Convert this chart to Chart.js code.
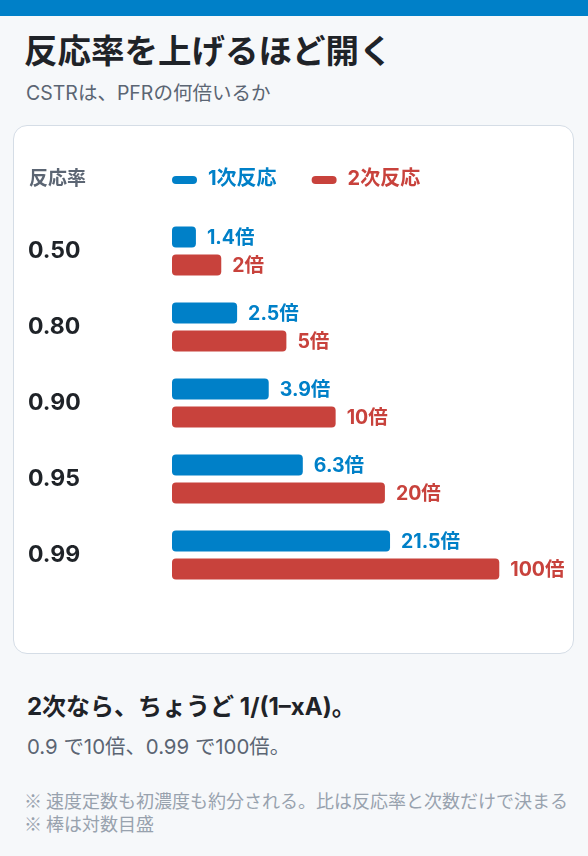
<!DOCTYPE html>
<html lang="ja">
<head>
<meta charset="utf-8">
<script src="https://cdn.jsdelivr.net/npm/chart.js@4"></script>
<style>
  body { margin: 0; background: #f6f8fa; font-family: Inter, "Noto Sans CJK JP", sans-serif; width: 588px; height: 856px; position: relative; overflow: hidden; }
  .topbar { position: absolute; left: 0; top: 0; width: 588px; height: 16px; background: #0080c8; }
  h1 { position: absolute; left: 24px; top: 31px; margin: 0; font-size: 33.5px; line-height: 40px; font-weight: 700; color: #1f2328; white-space: nowrap; }
  .sub { position: absolute; left: 26px; top: 80px; margin: 0; font-size: 19.5px; line-height: 26px; color: #5b6573; white-space: nowrap; }
  .card { position: absolute; left: 13px; top: 125px; width: 559px; height: 527px; background: #fff; border: 1.5px solid #d5dde6; border-radius: 14px; }
  .chartbox { position: absolute; left: 14px; top: 14px; width: 545px; height: 500px; }
  .point { position: absolute; left: 27px; top: 691px; margin: 0; font-size: 24px; line-height: 32px; font-weight: 700; color: #1f2328; white-space: nowrap; }
  .detail { position: absolute; left: 27px; top: 733px; margin: 0; font-size: 20.4px; line-height: 28px; color: #5b6573; white-space: nowrap; }
  .note { position: absolute; left: 24px; top: 789px; margin: 0; font-family: "Noto Sans CJK JP", sans-serif; font-size: 18px; line-height: 23px; color: #98a2ae; white-space: nowrap; }
</style>
</head>
<body>
<div class="topbar"></div>
<h1>反応率を上げるほど開く</h1>
<p class="sub">CSTRは、PFRの何倍いるか</p>
<div class="card">
  <div class="chartbox"><canvas id="ratioChart"></canvas></div>
</div>
<p class="point">2次なら、ちょうど 1/(1–xA)。</p>
<p class="detail">0.9 で10倍、0.99 で100倍。</p>
<p class="note">※ 速度定数も初濃度も約分される。比は反応率と次数だけで決まる<br>※ 棒は対数目盛</p>

<script>
const conversions = ['0.50', '0.80', '0.90', '0.95', '0.99'];
const firstOrder = [1.4, 2.5, 3.9, 6.3, 21.5];
const secondOrder = [2, 5, 10, 20, 100];
const seriesNames = ['1次反応', '2次反応'];
const axisHeader = '反応率';

const BLUE = '#0080c8';
const RED = '#c8423c';
const FONT = 'Inter, "Noto Sans CJK JP", sans-serif';

// header row: "反応率" + legend pills
const headerRow = {
   id: 'headerRow',
   afterDraw(chart) {
      const c = chart.ctx;
      const y = 39;
      c.save();
      c.textBaseline = 'middle';
      c.textAlign = 'left';
      c.font = '700 19px ' + FONT;
      c.fillStyle = '#5b6573';
      c.fillText(axisHeader, 1, y);
      c.font = '700 20px ' + FONT;
      let x = chart.chartArea.left;
      chart.data.datasets.forEach(ds => {
         c.fillStyle = ds.backgroundColor;
         c.beginPath();
         c.roundRect(x, y - 3, 25, 8, 4);
         c.fill();
         c.fillText(ds.label, x + 36, y);
         x += 36 + c.measureText(ds.label).width + 35;
      });
      c.restore();
   }
};

// value labels after bar ends
const valueLabels = {
   id: 'valueLabels',
   afterDatasetsDraw(chart) {
      const c = chart.ctx;
      c.save();
      c.font = '700 19.5px ' + FONT;
      c.textBaseline = 'middle';
      c.textAlign = 'left';
      chart.data.datasets.forEach((ds, i) => {
         const meta = chart.getDatasetMeta(i);
         c.fillStyle = ds.backgroundColor;
         meta.data.forEach((bar, j) => {
            c.fillText(ds.data[j] + '倍', bar.x + 11, bar.y + 1);
         });
      });
      c.restore();
   }
};

const ctx = document.getElementById('ratioChart').getContext('2d');

new Chart(ctx, {
   type: 'bar',
   data: {
      labels: conversions,
      datasets: [{
         label: seriesNames[0],
         data: firstOrder,
         backgroundColor: BLUE,
         borderRadius: 4,
         borderSkipped: false,
         categoryPercentage: 0.737,
         barPercentage: 0.75
      }, {
         label: seriesNames[1],
         data: secondOrder,
         backgroundColor: RED,
         borderRadius: 4,
         borderSkipped: false,
         categoryPercentage: 0.737,
         barPercentage: 0.75
      }]
   },
   options: {
      indexAxis: 'y',
      responsive: true,
      maintainAspectRatio: false,
      animation: false,
      layout: { padding: { top: 73, bottom: 47, left: 0, right: 13 } },
      scales: {
         x: {
            type: 'logarithmic',
            min: 1,
            max: 235,
            display: false
         },
         y: {
            grid: { display: false },
            border: { display: false },
            ticks: {
               crossAlign: 'far',
               color: '#1f2328',
               font: { family: FONT, size: 23, weight: '700' }
            },
            afterFit(scale) { scale.width = 144; }
         }
      },
      plugins: {
         legend: { display: false },
         tooltip: { enabled: false }
      }
   },
   plugins: [headerRow, valueLabels]
});
</script>
</body>
</html>
